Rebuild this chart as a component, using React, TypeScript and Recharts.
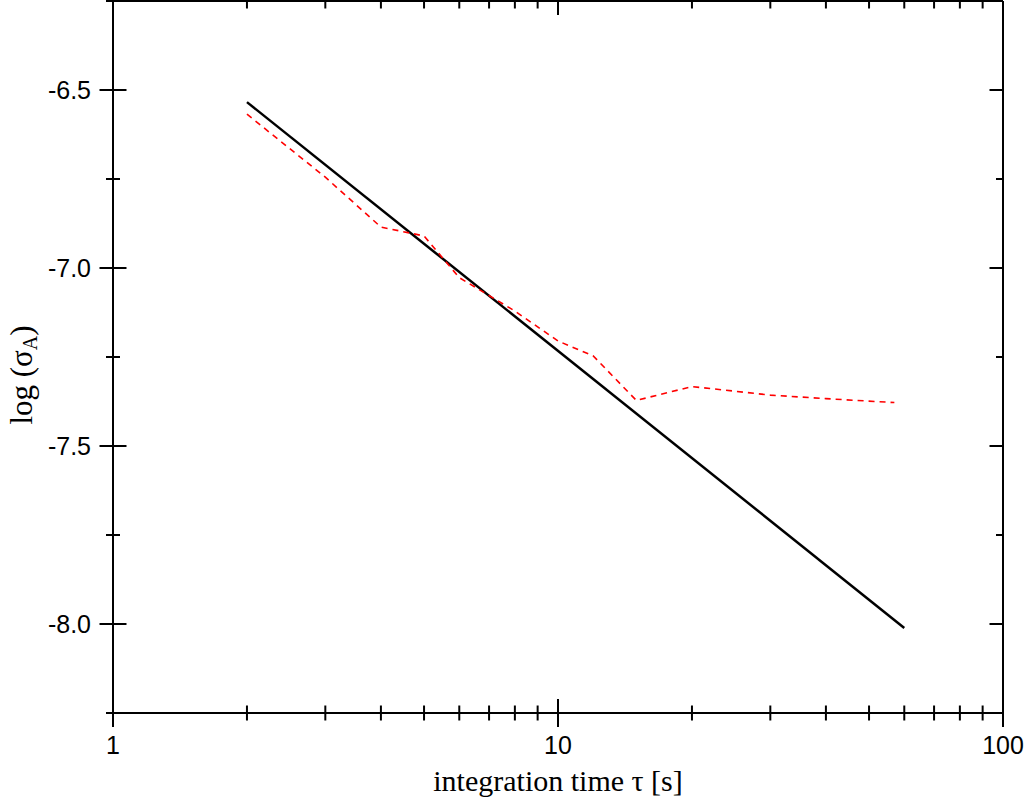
import React from 'react';
import { LineChart, Line, XAxis, YAxis, Label, ReferenceLine } from 'recharts';

// fitted slope line (two end points)
const fitTau = [2, 60];
const fitSigma = [-6.534, -8.011];

// measured Allan deviation (red dashed)
const measTau = [2, 3, 4, 5, 6, 8, 10, 12, 15, 20, 30, 40, 57];
const measSigma = [-6.568, -6.745, -6.885, -6.91, -7.027, -7.121, -7.205, -7.247, -7.372, -7.333, -7.357, -7.367, -7.378];

const xTicks = [1, 2, 3, 4, 5, 6, 7, 8, 9, 10, 20, 30, 40, 50, 60, 70, 80, 90, 100];
const xMajor = [1, 10, 100];
const yTicks = [-8.25, -8, -7.75, -7.5, -7.25, -7, -6.75, -6.5, -6.25];
const yLabels = [-8, -7.5, -7, -6.5];
const yDomain = [-8.25, -6.25];

const fitData = fitTau.map((t, i) => ({ x: t, y: fitSigma[i] }));
const measData = measTau.map((t, i) => ({ x: t, y: measSigma[i] }));

const SANS = '"Liberation Sans", Arial, sans-serif';
const SERIF = '"Liberation Serif", "Times New Roman", serif';
const PLOT_TOP = 1;

// bottom axis tick: crossing tick + label, plus the inward tick on the top frame
const BottomTick = ({ x, y, payload }: any) => {
  const major = xMajor.includes(payload.value);
  const len = major ? 14 : 7.5;
  return (
    <g>
      <line x1={x} x2={x} y1={y - len} y2={y + len} stroke="#000" strokeWidth={2} />
      <line x1={x} x2={x} y1={PLOT_TOP} y2={PLOT_TOP + len} stroke="#000" strokeWidth={2} />
      {major && (
        <text x={x} y={y + 41} textAnchor="middle" fontFamily={SANS} fontSize={25} fill="#000">
          {payload.value}
        </text>
      )}
    </g>
  );
};

const LeftTick = ({ x, y, payload }: any) => {
  const major = yLabels.includes(payload.value);
  const len = major ? 13.5 : 7;
  return (
    <g>
      <line x1={x - len} x2={x + len} y1={y} y2={y} stroke="#000" strokeWidth={2} />
      {major && (
        <text x={x - 22} y={y + 8.5} textAnchor="end" fontFamily={SANS} fontSize={25} fill="#000">
          {payload.value.toFixed(1)}
        </text>
      )}
    </g>
  );
};

const RightTick = ({ x, y, payload }: any) => {
  const len = yLabels.includes(payload.value) ? 13.5 : 7;
  return <line x1={x - len} x2={x} y1={y} y2={y} stroke="#000" strokeWidth={2} />;
};

const XTitle = ({ viewBox }: any) => (
  <text x={viewBox.x + viewBox.width / 2} y={viewBox.y + 78} textAnchor="middle" fontFamily={SERIF} fontSize={30} fill="#000">
    integration time τ [s]
  </text>
);

const YTitle = ({ viewBox }: any) => {
  const cx = viewBox.x + 21;
  const cy = viewBox.y + viewBox.height / 2 + 18;
  return (
    <text x={cx} y={cy} transform={`rotate(-90 ${cx} ${cy})`} textAnchor="middle" dominantBaseline="central" fontFamily={SERIF} fontSize={31} fill="#000">
      log (σ<tspan fontSize={20} dy={9}>A</tspan><tspan dy={-9}>)</tspan>
    </text>
  );
};

export default function App() {
  return (
    <div style={{ position: 'absolute', left: 0, top: 0, background: '#fff' }}>
      <LineChart width={1024} height={800} margin={{ top: PLOT_TOP, right: 20, bottom: 0, left: 0 }}>
        <XAxis
          xAxisId="bottom"
          dataKey="x"
          type="number"
          scale="log"
          domain={[1, 100]}
          allowDataOverflow
          ticks={xTicks}
          interval={0}
          height={87}
          tickSize={0}
          tickMargin={0}
          tickLine={false}
          axisLine={{ stroke: '#000', strokeWidth: 2 }}
          tick={<BottomTick />}
        >
          <Label content={<XTitle />} />
        </XAxis>
        <YAxis
          yAxisId="left"
          type="number"
          domain={yDomain}
          allowDataOverflow
          ticks={yTicks}
          interval={0}
          width={113}
          tickSize={0}
          tickMargin={0}
          tickLine={false}
          axisLine={{ stroke: '#000', strokeWidth: 2 }}
          tick={<LeftTick />}
        >
          <Label content={<YTitle />} />
        </YAxis>
        <YAxis
          yAxisId="right"
          orientation="right"
          type="number"
          domain={yDomain}
          allowDataOverflow
          ticks={yTicks}
          interval={0}
          width={1}
          tickSize={0}
          tickMargin={0}
          tickLine={false}
          axisLine={{ stroke: '#000', strokeWidth: 2 }}
          tick={<RightTick />}
        />
        {/* top frame line */}
        <ReferenceLine xAxisId="bottom" yAxisId="left" y={yDomain[1]} stroke="#000" strokeWidth={2} ifOverflow="visible" />
        <Line
          xAxisId="bottom"
          yAxisId="left"
          data={fitData}
          dataKey="y"
          type="linear"
          stroke="#000"
          strokeWidth={2.5}
          dot={false}
          isAnimationActive={false}
        />
        <Line
          xAxisId="bottom"
          yAxisId="left"
          data={measData}
          dataKey="y"
          type="linear"
          stroke="#ff0000"
          strokeWidth={1.6}
          strokeDasharray="6 5"
          dot={false}
          isAnimationActive={false}
        />
      </LineChart>
    </div>
  );
}
